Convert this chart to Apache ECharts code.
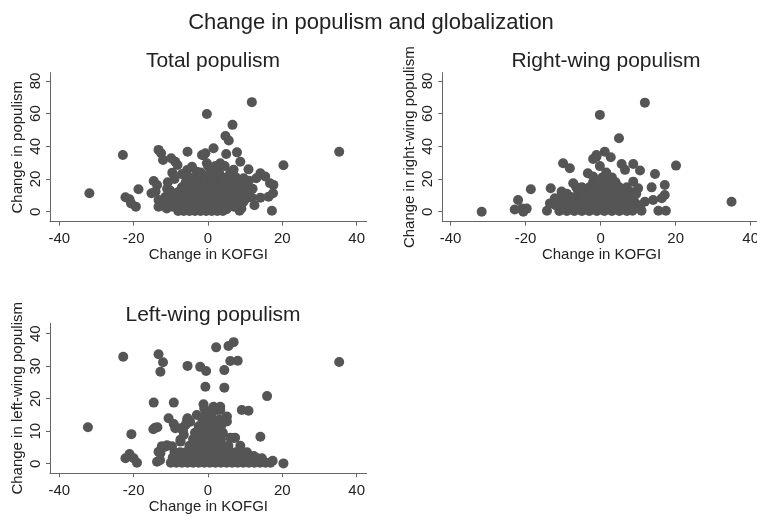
<!DOCTYPE html>
<html>
<head>
<meta charset="utf-8">
<title>Change in populism and globalization</title>
<script src="https://cdn.jsdelivr.net/npm/echarts@6/dist/echarts.min.js"></script>
<style>
  html, body { margin: 0; padding: 0; background: #fff; }
  #chart { width: 757px; height: 517px; }
</style>
</head>
<body>
<div id="chart"></div>
<script>
// [change in KOFGI, change in populism]
var totalPoints = [
  [-31.9, 11.3], [-22.9, 34.7], [-22.2, 8.8], [-21.1, 7.6], [-20.7, 5.1], [-19.4, 3.1], [-18.7, 13.7],
  [-13.3, 37.8], [-12.6, 35.7], [-12.1, 31.6], [-9.9, 32.7], [-8.8, 30.6], [-8.2, 28.6], [-5.5, 36.7],
  [-9.6, 23.9], [-14.6, 18.8], [-13.7, 16.3], [-15.2, 11.3], [-14.1, 12.3], [-13.3, 7.2], [-13.3, 3.1],
  [-11.1, 2], [-10.2, 13], [-5.6, 25.5], [-4.3, 27.5], [-3.0, 24.5], [-1.6, 34.7], [-0.7, 35.7],
  [6.6, 53.1], [4.7, 46.3], [5.6, 43.5], [35.3, 36.7], [20.3, 28.4], [1.5, 38.8], [-1.2, 34.6],
  [4.9, 35.3], [7.8, 36.3], [8.7, 30.6], [10.9, 25.9], [14.1, 23.5], [15.4, 21.5], [16.7, 17.4],
  [17.6, 16.4], [11.8, 8.6], [14.1, 8.6], [16.3, 9.2], [17.5, 11.3], [8.5, 0.6], [17.2, 0.6],
  [10.5, 16.3], [9.6, 20.5], [6.9, 25.6], [3.3, 29.6], [1.5, 25.6], [-0.3, 29.6], [-0.3, 59.8], [11.8, 67],
  [-8, 0.5], [-6.5, 0.5], [-5, 0.5], [-3.5, 0.5], [-2, 0.5], [-0.5, 0.5], [1, 0.5], [2.5, 0.5], [4, 0.5],
  [-9.5, 3], [-7, 3], [-5, 3], [-3, 3], [-1, 3], [1, 3], [3, 3], [5, 3], [7, 3],
  [-10, 6], [-8, 6], [-6, 6], [-4, 6], [-2, 6], [0, 6], [2, 6], [4, 6], [6, 6], [8, 6], [9.5, 6],
  [-9, 9], [-7, 9], [-5, 9], [-3, 9], [-1, 9], [1, 9], [3, 9], [5, 9], [7, 9], [9, 9],
  [-8, 12], [-6, 12], [-4, 12], [-2, 12], [0, 12], [2, 12], [4, 12], [6, 12], [8, 12], [10, 12],
  [-7, 15], [-5, 15], [-3, 15], [-1, 15], [1, 15], [3, 15], [5, 15], [7, 15], [9, 15],
  [-6, 18], [-4, 18], [-2, 18], [0, 18], [2, 18], [4, 18], [6, 18], [8, 18],
  [-5, 21], [-2.5, 21], [0, 21], [2.5, 21], [5, 21], [7.5, 21],
  [-2, 24], [0.5, 24], [3, 24], [6, 24], [0, 28], [2, 28], [4.5, 28],
  [9.8, 7], [10.5, 11], [12, 14], [11, 19], [13, 20.5], [12.5, 4], [9, 2],
  [-11.5, 9], [-12, 5], [-11, 14], [-10.8, 18], [-9, 20], [-7, 23],
  [-7, 1.5], [-4, 1.5], [-1, 1.5], [2, 1.5], [5, 1.5], [-6, 7.5], [-3, 7.5], [0, 7.5], [3, 7.5], [6, 7.5],
  [-6, 13.5], [-3, 13.5], [0, 13.5], [3, 13.5], [6, 13.5], [-3, 19.5], [1, 19.5], [4, 19.5], [1.5, 22.5]
];

var rightPoints = [
  [-31.7, 0], [-22.9, 1.4], [-22, 7.2], [-21, 1.9], [-19.7, 1.9], [-18.6, 13.7], [-20.6, 0],
  [-14.3, 0.6], [-13.5, 5.1], [-13.3, 14.3], [-10, 29.6], [-8.2, 26.6], [-7.3, 17.4], [-12.2, 8.2],
  [-10.4, 12.3], [-3.4, 23.5], [-2, 21.5], [-1.1, 33.7], [4.9, 44.9], [34.9, 6.1], [20.1, 28.2],
  [1.1, 36.7], [-1.1, 34.7], [2.7, 33.3], [5.6, 29.2], [6.5, 25.6], [8.7, 29.2], [10.5, 25.2],
  [14.5, 23.1], [13.6, 14.9], [17.1, 16.3], [17.1, 10.2], [16.3, 8.2], [14.0, 7.2], [11.8, 6.1],
  [8.5, 0.6], [10.9, 0.6], [15.4, 0.6], [17.4, 0.6], [8.7, 18.4], [10, 14.3], [-0.2, 59.2], [11.8, 66.7],
  [-0.2, 27.9], [-2, 32.2],
  [-11, 0.5], [-9, 0.5], [-7, 0.5], [-5, 0.5], [-3, 0.5], [-1, 0.5], [1, 0.5], [3, 0.5], [5, 0.5], [7, 0.5],
  [-10, 3], [-8, 3], [-6, 3], [-4, 3], [-2, 3], [0, 3], [2, 3], [4, 3], [6, 3], [8, 3],
  [-9, 6], [-7, 6], [-5, 6], [-3, 6], [-1, 6], [1, 6], [3, 6], [5, 6], [7, 6], [9, 6],
  [-8, 9], [-6, 9], [-4, 9], [-2, 9], [0, 9], [2, 9], [4, 9], [6, 9], [8, 9],
  [-6, 12], [-4, 12], [-2, 12], [0, 12], [2, 12], [4, 12], [6, 12], [8, 12],
  [-5, 15], [-3, 15], [-1, 15], [1, 15], [3, 15], [5, 15], [7, 15],
  [-2, 18], [0, 18], [2, 18], [4, 18], [0.5, 21], [3, 21], [1.5, 24],
  [-12, 4], [-11, 8], [-9, 11], [-6.5, 15], [9.5, 11], [10.5, 4],
  [-8, 1.5], [-4, 1.5], [0, 1.5], [4, 1.5], [-7, 4.5], [-3, 4.5], [1, 4.5], [5, 4.5],
  [-5, 7.5], [-1, 7.5], [3, 7.5], [7, 7.5], [-5, 10.5], [-1, 10.5], [3, 10.5], [7, 10.5],
  [-2, 13.5], [2, 13.5], [6, 13.5], [-1, 16.5], [3, 16.5]
];

var leftPoints = [
  [-32.3, 11.2], [-22.8, 32.9], [-20.6, 9.1], [-22.2, 1.7], [-21.1, 3.0], [-20, 1.7], [-19.1, 0.3],
  [-13.3, 33.7], [-12.1, 31.2], [-12.8, 28.3], [-14.6, 18.8], [-14.2, 11.1], [-14.7, 10.6], [-13.6, 11.2],
  [-9.2, 18.8], [-5.5, 30.1], [-2.1, 29.8], [-0.5, 28.5], [-0.7, 23.7], [-1.2, 18.3], [2.2, 35.8],
  [5.5, 36.2], [6.9, 37.4], [6.0, 31.6], [8.0, 31.7], [4.4, 28.8], [4.4, 23.4], [35.3, 31.3],
  [15.9, 20.8], [9.1, 16.5], [10.9, 16.3], [14.1, 8.3], [20.3, 0.1], [17.4, 0.9], [-5.5, 14.0],
  [-4.8, 12.9], [-10.6, 14], [-9.2, 12.2], [-12.4, 5.4], [-11.0, 5.7], [-12.8, 3.2], [-13.7, 0.6],
  [-7.4, 6.8], [-6.7, 10.4], [1.5, 17.5], [2.4, 16.5], [3.3, 16.5], [5.1, 14.5], [5.1, 13.0],
  [6.0, 8.0], [7.3, 8.0], [8.7, 5.5], [-8.8, 10.9], [-7.4, 10.9], [-5.6, 13.4], [-13.3, 3.7],
  [-11.5, 5.2], [-9.7, 5.4], [-12.9, 1.1], [-7.4, 7.4], [-6.5, 8.9], [14.5, 1.7], [12.3, 2.4],
  [10.5, 2.2], [6.9, 7.9], [4.7, 14.0], [3.3, 17.5],
  [-10, 0.3], [-8.5, 0.3], [-7, 0.3], [-5.5, 0.3], [-4, 0.3], [-2.5, 0.3], [-1, 0.3], [0.5, 0.3], [2, 0.3],
  [3.5, 0.3], [5, 0.3], [6.5, 0.3], [8, 0.3], [9.5, 0.3], [11, 0.3], [12.5, 0.3], [14, 0.3], [15.5, 0.3], [16.8, 0.3],
  [-9.5, 1.8], [-8, 1.8], [-6.5, 1.8], [-5, 1.8], [-3.5, 1.8], [-2, 1.8], [-0.5, 1.8], [1, 1.8],
  [2.5, 1.8], [4, 1.8], [5.5, 1.8], [7, 1.8], [8.5, 1.8], [10, 1.8], [11.5, 1.8], [13, 1.8],
  [-9, 3.5], [-7.5, 3.5], [-6, 3.5], [-4.5, 3.5], [-3, 3.5], [-1.5, 3.5], [0, 3.5], [1.5, 3.5],
  [3, 3.5], [4.5, 3.5], [6, 3.5], [7.5, 3.5], [9, 3.5], [10.5, 3.5],
  [-5, 5.5], [-3.5, 5.5], [-2, 5.5], [-0.5, 5.5], [1, 5.5], [2.5, 5.5], [4, 5.5], [5.5, 5.5],
  [-4, 7.5], [-2.5, 7.5], [-1, 7.5], [0.5, 7.5], [2, 7.5], [3.5, 7.5],
  [-3.5, 9.5], [-2, 9.5], [-0.5, 9.5], [1, 9.5], [2.5, 9.5], [4, 9.5],
  [-2.5, 11.5], [-1, 11.5], [0.5, 11.5], [2, 11.5], [3.5, 11.5],
  [-1.5, 13.5], [0, 13.5], [1.5, 13.5], [3, 13.5], [-0.5, 15.5], [1, 15.5],
  [-3, 15], [-1, 17], [-6, 12]
];

var xTicks = [-40, -20, 0, 20, 40];
var yTicksTop = [0, 20, 40, 60, 80];
var yTicksLeft = [0, 10, 20, 30, 40];

var chart = echarts.init(document.getElementById('chart'));

var textColor = '#222';
var axisColor = '#666';
var dotColor = '#555555';
var fontFamily = 'Liberation Sans, Arial, sans-serif';

function xAxisFor(gridIndex, min, max) {
  return {
    gridIndex: gridIndex,
    type: 'value',
    min: min,
    max: max,
    name: 'Change in KOFGI',
    nameLocation: 'middle',
    nameGap: 25,
    nameTextStyle: { color: textColor, fontSize: 15, fontFamily: fontFamily },
    axisLine: { onZero: false, lineStyle: { color: axisColor, width: 1 } },
    axisTick: { show: true, inside: false, length: 4, customValues: xTicks, lineStyle: { color: axisColor } },
    axisLabel: { customValues: xTicks, color: textColor, fontSize: 15, fontFamily: fontFamily, margin: 10 },
    splitLine: { show: false }
  };
}

function yAxisFor(gridIndex, min, max, ticks, name) {
  return {
    gridIndex: gridIndex,
    type: 'value',
    min: min,
    max: max,
    name: name,
    nameLocation: 'middle',
    nameGap: 25,
    nameTextStyle: { color: textColor, fontSize: 15, fontFamily: fontFamily },
    axisLine: { show: true, onZero: false, lineStyle: { color: axisColor, width: 1 } },
    axisTick: { show: true, inside: false, length: 4, customValues: ticks, lineStyle: { color: axisColor } },
    axisLabel: { customValues: ticks, rotate: 90, color: textColor, fontSize: 15, fontFamily: fontFamily, margin: 7 },
    splitLine: { show: false }
  };
}

function scatterFor(index, points) {
  return {
    type: 'scatter',
    xAxisIndex: index,
    yAxisIndex: index,
    data: points,
    symbol: 'circle',
    symbolSize: 10,
    itemStyle: { color: dotColor, opacity: 1 },
    emphasis: { disabled: true }
  };
}

var option = {
  backgroundColor: '#fff',
  animation: false,
  title: [
    { text: 'Change in populism and globalization', left: 366, top: 7, textAlign: 'center',
      textStyle: { color: textColor, fontSize: 22, fontWeight: 'normal', fontFamily: fontFamily } },
    { text: 'Total populism', left: 208, top: 46, textAlign: 'center',
      textStyle: { color: textColor, fontSize: 21, fontWeight: 'normal', fontFamily: fontFamily } },
    { text: 'Right-wing populism', left: 601, top: 46, textAlign: 'center',
      textStyle: { color: textColor, fontSize: 21, fontWeight: 'normal', fontFamily: fontFamily } },
    { text: 'Left-wing populism', left: 208, top: 300, textAlign: 'center',
      textStyle: { color: textColor, fontSize: 21, fontWeight: 'normal', fontFamily: fontFamily } }
  ],
  grid: [
    { left: 50, top: 72.7, width: 316.7, height: 149, outerBoundsMode: 'none' },
    { left: 442.3, top: 72.7, width: 318.5, height: 149, outerBoundsMode: 'none' },
    { left: 50, top: 323.3, width: 316.7, height: 150, outerBoundsMode: 'none' }
  ],
  xAxis: [
    xAxisFor(0, -42.5, 42.7),
    xAxisFor(1, -42.2, 42.7),
    xAxisFor(2, -42.5, 42.7)
  ],
  yAxis: [
    yAxisFor(0, -6.1, 85, yTicksTop, 'Change in populism'),
    yAxisFor(1, -6.1, 85, yTicksTop, 'Change in right-wing populism'),
    yAxisFor(2, -2.95, 43.2, yTicksLeft, 'Change in left-wing populism')
  ],
  series: [
    scatterFor(0, totalPoints),
    scatterFor(1, rightPoints),
    scatterFor(2, leftPoints)
  ]
};

chart.setOption(option);
</script>
</body>
</html>
